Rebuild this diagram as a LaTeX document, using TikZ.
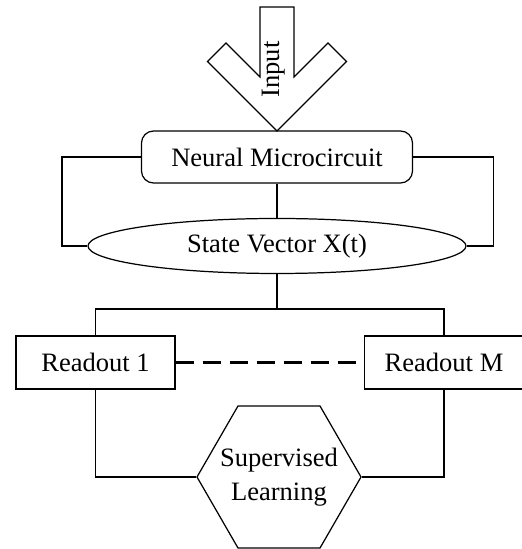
\documentclass[tikz,border=0pt]{standalone}
\usepackage{fontspec}
\setmainfont{Liberation Serif}
\usetikzlibrary{shapes.geometric}

\begin{document}
\begin{tikzpicture}[font=\fontsize{15.1}{19.4}\selectfont, line width=0.7pt,
	block/.style={draw, inner sep=0pt, minimum width=3.18cm, minimum height=1.06cm},
	hexa/.style={draw, regular polygon, regular polygon sides=6, inner sep=-0.5cm, minimum size=3.28cm, align=center},
	dotted link/.style={line width=1.3pt, dash pattern=on 0.36cm off 0.18cm}]
	\useasboundingbox (0,0) rectangle (10.42,10.98);
	\draw (5.20,10.84) -- (5.88,10.84) -- (5.88,9.44) -- (6.56,10.12) -- (6.93,9.75) -- (5.54,8.36)
		-- (4.15,9.75) -- (4.52,10.12) -- (5.20,9.44) -- cycle;
	\node (in) at (5.58,9.59) [rotate=90, anchor=base] {Input};
	\node (mc) at (5.54,7.84) [draw, rounded corners=0.24cm, minimum width=5.42cm, minimum height=1.04cm, inner sep=0pt] {Neural Microcircuit};
	\node (sv) at (5.54,6.06) [draw, ellipse, minimum width=7.56cm, minimum height=1.10cm, inner sep=0pt] {State Vector X(t)};
		\coordinate (split) at (5.54,4.80);
		\node (r1) at (1.91,3.73) [block] {Readout 1};
		\node (rm) at (8.88,3.73) [block] {Readout M};
			\node (sl) at (5.58,1.44) [hexa] {Supervised\\Learning};
	\draw (mc.west) -- ++(-1.58,0) |- (sv.west);
	\draw (mc.east) -- ++(1.60,0) |- (sv.east);
	\draw (mc) -- (sv);
	\draw (sv) -- (split);
	\draw (r1.north) |- (split) -| (rm.north);
	\draw[dotted link] (r1) -- (rm);
	\draw (r1.south) |- (sl.west);
	\draw (rm.south) |- (sl.east);
\end{tikzpicture}
\end{document}
